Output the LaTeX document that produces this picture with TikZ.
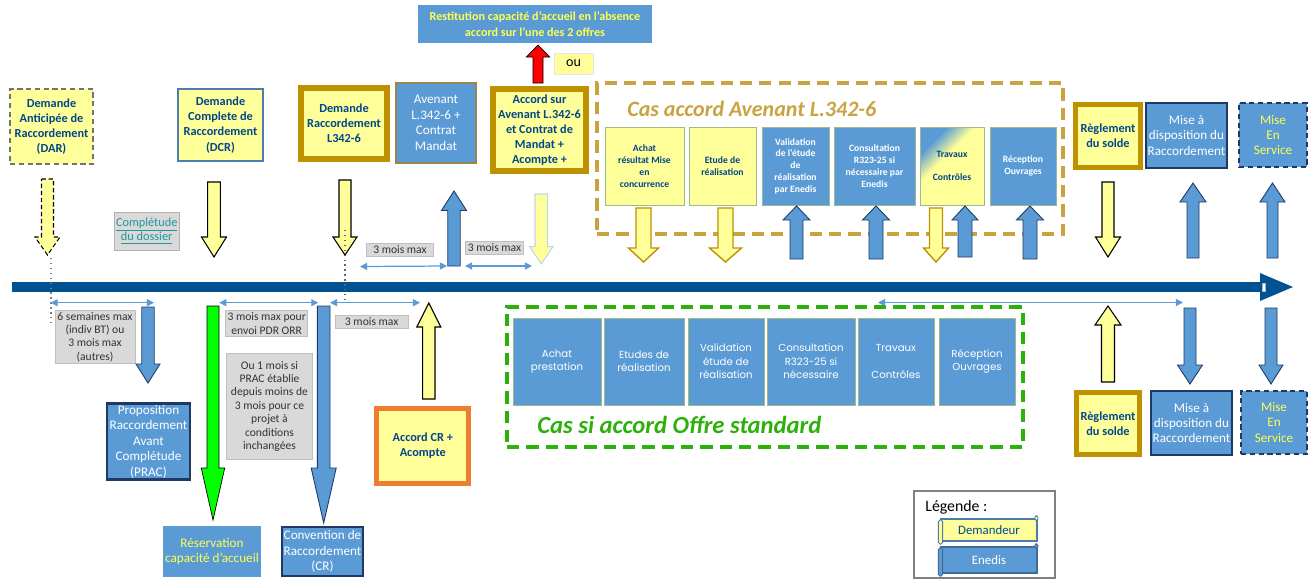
\documentclass[tikz,border=0pt]{standalone}
\usepackage{fontspec}
\setmainfont{Carlito}
\newfontfamily\enfont{Poppins}
\usetikzlibrary{arrows.meta}
\definecolor{cyellow}{RGB}{255,255,153}
\definecolor{cblue}{RGB}{91,155,213}
\definecolor{navy}{RGB}{31,56,100}
\definecolor{gold}{RGB}{191,144,0}
\definecolor{dashgold}{RGB}{201,163,64}
\definecolor{txtblue}{RGB}{0,70,140}
\definecolor{lineblue}{RGB}{0,82,147}
\definecolor{okgreen}{RGB}{44,176,10}
\definecolor{lgray}{RGB}{217,217,217}
\definecolor{edgegreen}{RGB}{160,185,140}
\definecolor{orangeb}{RGB}{237,125,49}
\definecolor{linkteal}{RGB}{32,150,160}
\definecolor{pale}{RGB}{255,255,80}
\pgfdeclareverticalshading{travshade}{100bp}{color(0bp)=(cyellow); color(58bp)=(cyellow); color(72bp)=(cblue); color(100bp)=(cblue)}

% block arrows: style, x of axis, start y, tip y, half shaft, half head, head length
\newcommand{\arrdown}[7]{\draw[#1] ({#2-#5},#3) -- ({#2+#5},#3) -- ({#2+#5},{#4-#7}) -- ({#2+#6},{#4-#7}) -- (#2,#4) -- ({#2-#6},{#4-#7}) -- ({#2-#5},{#4-#7}) -- cycle;}
\newcommand{\arrup}[7]{\draw[#1] ({#2-#5},#3) -- ({#2+#5},#3) -- ({#2+#5},{#4+#7}) -- ({#2+#6},{#4+#7}) -- (#2,#4) -- ({#2-#6},{#4+#7}) -- ({#2-#5},{#4+#7}) -- cycle;}

\begin{document}
\begin{tikzpicture}[x=0.02cm,y=-0.02cm]
  \tikzstyle{ybox}=[fill=cyellow, text=txtblue, align=center, inner sep=1pt,
    font=\bfseries\fontsize{7}{8.6}\selectfont]
  \tikzstyle{bbox}=[fill=cblue, text=white, align=center, inner sep=1pt,
    font=\fontsize{7.5}{8.8}\selectfont]
  \tikzstyle{note}=[fill=lgray, draw=black!25, text=black!80, align=center, inner sep=1pt,
    font=\fontsize{6.6}{7.6}\selectfont]
  \tikzstyle{stepbox}=[draw=edgegreen, line width=0.5pt, align=center, inner sep=1pt,
    minimum height=1.56cm, font=\bfseries\fontsize{5.5}{6.7}\selectfont]
  \tikzstyle{enbox}=[fill=cblue, draw=edgegreen, text=white, align=center, inner sep=1pt,
    minimum height=1.74cm, font=\enfont\fontsize{5.8}{7.6}\selectfont]
  \tikzstyle{yarrK}=[fill=cyellow, draw=black, line width=0.6pt]
  \tikzstyle{yarrD}=[fill=cyellow, draw=black, line width=0.6pt, dash pattern=on 2.5pt off 1.5pt]
  \tikzstyle{yarrG}=[fill=cyellow, draw=gold, line width=0.8pt]
  \tikzstyle{yarrL}=[fill=cyellow, draw=cblue!40, line width=0.6pt]
  \tikzstyle{barr}=[fill=cblue, draw=navy, line width=0.5pt]
  \tikzstyle{dimline}=[{Triangle[length=4pt,width=4pt]}-{Triangle[length=4pt,width=4pt]}, draw=cblue, line width=0.7pt]

  \useasboundingbox (0,0) rectangle (1309,579);

  % timeline
  \fill[lineblue] (12,282) rectangle (1262,292);
  \fill[lineblue] (1260,273) -- (1293,287) -- (1260,301) -- cycle;
  \draw[black!30, fill=white, line width=0.3pt] (1262,283) rectangle (1265,291);

  % top row
  \node[ybox, draw=black!55, dash pattern=on 3pt off 2pt, line width=0.8pt,
    minimum width=1.66cm, minimum height=1.5cm] (dar) at (51.5,126.5)
    {Demande\\Anticipée de\\Raccordement\\(DAR)};
  \node[ybox, draw=cblue!70!navy, line width=1.2pt, minimum width=1.7cm, minimum height=1.44cm]
    (dcr) at (220.5,125) {Demande\\Complete de\\Raccordement\\(DCR)};
  \node[ybox, draw=gold, line width=3pt, minimum width=1.72cm, minimum height=1.42cm]
    (dl) at (344,123.5) {Demande\\Raccordement\\L342-6};
  \node[bbox, draw=gold!40!gray, line width=0.6pt, minimum width=1.6cm, minimum height=1.6cm]
    (aven) at (436,123) {Avenant\\L.342-6 +\\Contrat\\Mandat};
  \node[ybox, draw=gold, line width=3pt, minimum width=1.86cm, minimum height=1.64cm]
    (accs) at (539.5,130) {Accord sur\\Avenant L.342-6\\et Contrat de\\Mandat +\\Acompte +};
  \node[bbox, text=pale, font=\bfseries\fontsize{6.9}{8.8}\selectfont,
    minimum width=4.68cm, minimum height=0.76cm] (rest) at (535,24)
    {Restitution capacité d’accueil en l’absence\\accord sur l’une des 2 offres};
  \node[fill=cyellow, draw=black!10, font=\fontsize{8}{9}\selectfont,
    minimum width=0.78cm, minimum height=0.42cm, inner sep=0pt] (ou) at (573.5,63.5) {ou};
  \arrup{fill=red}{538}{83}{45}{5}{11.7}{12}

  \node[ybox, draw=gray!60, minimum width=1.2cm, minimum height=0.76cm, fill=lgray,
    text=linkteal, font=\fontsize{7}{8.2}\selectfont] (compl) at (146.7,231)
    {\underline{Complétude}\\\underline{du dossier}};

  % cas accord avenant
  \node[draw=dashgold, line width=2.2pt, dash pattern=on 7pt off 4pt,
    minimum width=9.32cm, minimum height=3.02cm] (casav) at (830,158.5) {};
  \node[anchor=west, text=dashgold, inner sep=0pt,
    font=\bfseries\itshape\fontsize{12.5}{14}\selectfont] (titav) at (627,109)
    {Cas accord Avenant  L.342-6};
  \node[stepbox, fill=cyellow, text=txtblue, minimum width=1.58cm] (achat) at (644.5,166)
    {Achat\\résultat Mise\\en\\concurrence};
  \node[stepbox, fill=cyellow, text=txtblue, minimum width=1.34cm] (etude) at (722.5,166)
    {Etude de\\réalisation};
  \node[stepbox, fill=cblue, text=white, minimum width=1.34cm] (valid) at (795.5,166)
    {Validation\\de l’étude\\de\\réalisation\\par Enedis};
  \node[stepbox, fill=cblue, text=white, minimum width=1.62cm] (consu) at (874.5,166)
    {Consultation\\R323-25  si\\nécessaire par\\Enedis};
  \node[stepbox, shading=travshade, shading angle=45,
    text=txtblue, minimum width=1.28cm] (trav) at (952,166) {Travaux\\[6.6pt]Contrôles};
  \node[stepbox, fill=cblue, text=white, minimum width=1.32cm] (recep) at (1023,166)
    {Réception\\Ouvrages};

  \arrdown{yarrG}{643.5}{208}{262}{7.5}{15}{14}
  \arrdown{yarrG}{725.5}{208}{262}{7.5}{16}{14}
  \arrup{barr}{796.5}{259}{206}{6.5}{13.5}{14}
  \arrup{barr}{876}{259}{206}{7}{13.5}{14}
  \arrdown{yarrG}{936}{208}{262}{6.5}{12.5}{14}
  \arrup{barr}{965}{257}{206}{7}{13}{14}
  \arrup{barr}{1030}{259}{206}{7}{13.5}{14}

  % right side, top
  \node[ybox, draw=gold, line width=2.5pt, minimum width=1.3cm, minimum height=1.26cm]
    (regl) at (1108,136) {Règlement\\du solde};
  \node[bbox, draw=navy, line width=1.2pt, minimum width=1.54cm, minimum height=1.3cm]
    (misd) at (1186.5,135.5) {Mise à\\disposition du\\Raccordement};
  \node[bbox, draw=navy, line width=1.2pt, dash pattern=on 3pt off 2pt, text=pale,
    minimum width=1.36cm, minimum height=1.28cm] (mes) at (1273,135) {Mise\\En\\Service};
  \arrdown{yarrK}{1108}{182}{257}{6}{12.5}{20}
  \arrup{barr}{1193}{258}{183}{6}{13}{19}
  \arrup{barr}{1272.5}{258}{183}{5.5}{12.5}{19}

  % left arrows
  \arrdown{yarrD}{47.5}{179}{255}{6}{12.5}{18}
  \draw[black!50, dotted, line width=0.8pt] (51,258) -- (51,325);
  \arrdown{yarrK}{214}{182}{257}{6.3}{12.5}{20}
  \arrdown{yarrK}{345}{180}{255}{6}{12}{18}
  \draw[black!60, dotted, line width=0.8pt] (345,230) -- (345,303);

  % delays above the line
  \coordinate (a1) at (360,266.5);
  \coordinate (a2) at (447,266);
  \coordinate (b1) at (465,266);
  \coordinate (b2) at (532,266);
  \draw[dimline] (a1) -- (a2);
  \draw[dimline] (b1) -- (b2);
  \node[note, minimum width=1.34cm, minimum height=0.26cm] (lA) at (400,250) {3 mois max};
  \node[note, minimum width=1.15cm, minimum height=0.25cm] (lB) at (494.5,248) {3 mois max};
  \arrup{barr}{454}{266}{191}{6.2}{12.5}{19.5}
  \arrdown{yarrL}{541.3}{194}{264}{6.3}{11.7}{17.3}

  % delays below the line
  \coordinate (c1) at (50.7,302.7);
  \coordinate (c2) at (154,302.7);
  \coordinate (d1) at (219.3,302.7);
  \coordinate (d2) at (318.3,302.7);
  \coordinate (e1) at (330,302.7);
  \coordinate (e2) at (420,302.7);
  \coordinate (f1) at (878,302.5);
  \coordinate (f2) at (1183,302.5);
  \draw[dimline] (c1) -- (c2);
  \draw[dimline] (d1) -- (d2);
  \draw[dimline] (e1) -- (e2);
  \node[note, minimum width=1.6cm, minimum height=1.04cm] (l1) at (95,337)
    {6 semaines max\\(indiv BT) ou\\3 mois max\\(autres)};
  \node[note, minimum width=1.57cm, minimum height=0.52cm] (l2) at (266.7,323.7)
    {3 mois max pour\\envoi PDR ORR};
  \node[note, minimum width=1.71cm, minimum height=2.12cm] (l3) at (269.5,406.3)
    {Ou 1 mois  si\\PRAC établie\\depuis moins de\\3 mois pour ce\\projet à\\conditions\\inchangées};
  \node[note, minimum width=1.46cm, minimum height=0.27cm] (lC) at (371.7,322) {3 mois max};

  \arrdown{barr}{148}{307}{383}{6.2}{12}{19}
  \node[bbox, draw=navy, line width=1.5pt, minimum width=1.66cm, minimum height=1.5cm]
    (prac) at (148.5,441.5) {Proposition\\Raccordement\\Avant\\Complétude\\(PRAC)};
  \arrdown{fill=green}{213}{306}{520}{6}{11.7}{52}
  \node[bbox, text=pale, minimum width=1.84cm, minimum height=1.02cm]
    (resv) at (212,551.5) {Réservation\\capacité d’accueil};
  \arrdown{barr}{323.7}{306}{523}{6.3}{12.5}{55}
  \node[bbox, draw=navy, line width=1.5pt, minimum width=1.54cm, minimum height=0.98cm]
    (cr) at (322.5,551.5) {Convention de\\Raccordement\\(CR)};
  \arrup{yarrK}{428.8}{399}{303}{6.2}{12}{24}
  \node[ybox, draw=orangeb, line width=3pt, minimum width=1.84cm, minimum height=1.5cm]
    (acr) at (422.8,445.8) {Accord CR +\\Acompte};

  % cas offre standard
  \node[draw=okgreen, line width=2.2pt, dash pattern=on 7pt off 4pt,
    minimum width=10.32cm, minimum height=2.8cm] (std) at (765,377) {};
  \node[enbox, minimum width=1.76cm] (s1) at (557,361.5) {Achat\\prestation};
  \node[enbox, minimum width=1.6cm] (s2) at (644,361.5) {Etudes de\\réalisation};
  \node[enbox, minimum width=1.52cm] (s3) at (726,361.5) {Validation\\étude de\\réalisation};
  \node[enbox, minimum width=1.76cm] (s4) at (811,361.5) {Consultation\\R323-25 si\\nécessaire};
  \node[enbox, minimum width=1.52cm] (s5) at (896,361.5) {Travaux\\[7.6pt]Contrôles};
  \node[enbox, minimum width=1.52cm] (s6) at (977,361.5) {Réception\\Ouvrages};
  \node[anchor=west, text=okgreen, inner sep=0pt,
    font=\bfseries\itshape\fontsize{14}{16}\selectfont] (titstd) at (537,425)
    {Cas si accord Offre standard};
  \draw[dimline] (f1) -- (f2);

  % right side, bottom
  \arrup{yarrK}{1108}{382}{306}{6.5}{13}{19}
  \arrdown{barr}{1190}{308}{384}{6}{12.5}{19}
  \arrdown{barr}{1271}{308}{384}{6}{12}{19}
  \node[ybox, draw=gold, line width=2.5pt, minimum width=1.26cm, minimum height=1.24cm]
    (regl2) at (1108,423.5) {Règlement\\du solde};
  \node[bbox, draw=navy, line width=1.2pt, minimum width=1.54cm, minimum height=1.28cm]
    (misd2) at (1191.5,423) {Mise à\\disposition du\\Raccordement};
  \node[bbox, draw=navy, line width=1.2pt, dash pattern=on 3pt off 2pt, text=pale,
    minimum width=1.32cm, minimum height=1.26cm] (mes2) at (1274,422.5) {Mise\\En\\Service};

  % legend
  \node[draw=black!50, fill=white, line width=0.6pt, minimum width=2.82cm, minimum height=1.74cm]
    (leg) at (984.5,534.5) {};
  \node[anchor=west, inner sep=0pt, font=\fontsize{9}{10}\selectfont] (legt) at (925,507) {Légende :};
  \node[fill=cyellow, draw=cblue!80!black, line width=0.6pt, text=txtblue, inner sep=0pt,
    minimum width=1.92cm, minimum height=0.44cm, font=\fontsize{7.3}{8}\selectfont]
    (dem) at (989,530) {Demandeur};
  \node[fill=cblue, draw=cblue!70!black, line width=0.6pt, text=white, inner sep=0pt,
    minimum width=1.92cm, minimum height=0.52cm, font=\fontsize{7.3}{8}\selectfont]
    (ene) at (989,560) {Enedis};
  \draw[fill=cyellow, draw=cblue!80!black, line width=0.5pt, rounded corners=1pt]
    ([xshift=-1.2pt,yshift=-0.8pt]dem.north west) rectangle ([xshift=1.2pt,yshift=-1.5pt]dem.south west);
  \draw[fill=cyellow, draw=cblue!80!black, line width=0.5pt, rounded corners=1pt]
    ([xshift=-1.6pt,yshift=1.5pt]dem.north east) rectangle ([xshift=0.3pt,yshift=-1.2pt]dem.north east);
  \draw[fill=cblue, draw=cblue!70!black, line width=0.5pt, rounded corners=1pt]
    ([xshift=-1.2pt,yshift=-0.8pt]ene.north west) rectangle ([xshift=1.2pt,yshift=-1.5pt]ene.south west);
  \draw[fill=cblue, draw=cblue!70!black, line width=0.5pt, rounded corners=1pt]
    ([xshift=-1.6pt,yshift=1.5pt]ene.north east) rectangle ([xshift=0.3pt,yshift=-1.2pt]ene.north east);
\end{tikzpicture}
\end{document}
